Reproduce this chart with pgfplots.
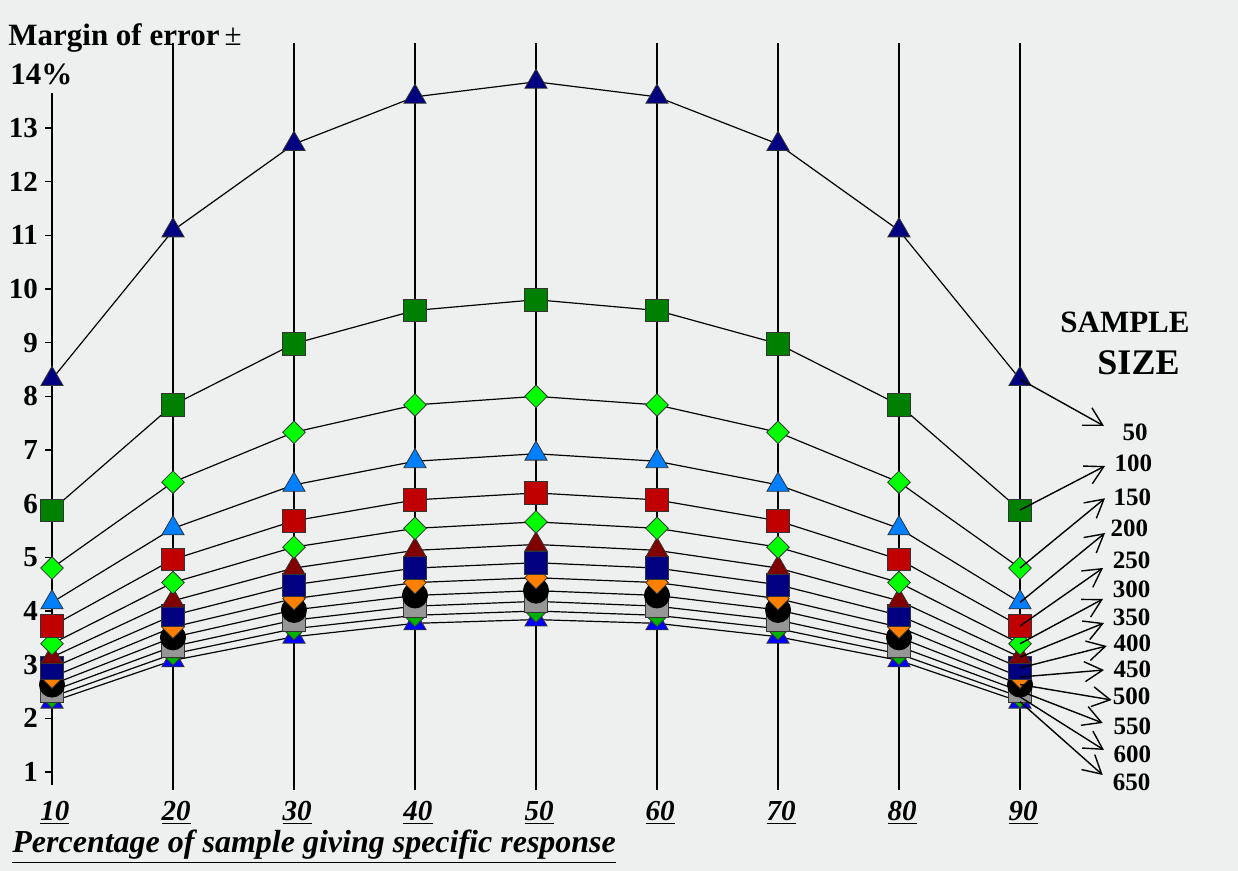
\documentclass[border=0pt]{standalone}
\usepackage{fontspec}
\setmainfont{Liberation Serif}
\usepackage{pgfplots}
\pgfplotsset{compat=1.18}
\usepackage{pgfplotstable}
\usetikzlibrary{arrows.meta}

\definecolor{bgc}{RGB}{238,240,239}
\definecolor{cnavy}{RGB}{0,0,128}
\definecolor{cgreen}{RGB}{0,128,0}
\definecolor{clime}{RGB}{0,255,0}
\definecolor{cdodger}{RGB}{0,128,255}
\definecolor{cred}{RGB}{192,0,0}
\definecolor{cdarkred}{RGB}{128,0,0}
\definecolor{corange}{RGB}{255,128,0}
\definecolor{cgray}{RGB}{150,150,150}
\definecolor{cmidgreen}{RGB}{0,176,0}
\definecolor{cblue}{RGB}{0,0,255}

\pgfplotstableread{
p  n50   n100 n150 n200 n250 n300 n350 n400 n450 n500 n550 n600 n650
10 8.32  5.88 4.80 4.16 3.72 3.39 3.14 2.94 2.77 2.63 2.51 2.40 2.31
20 11.09 7.84 6.40 5.54 4.96 4.53 4.19 3.92 3.70 3.51 3.34 3.20 3.08
30 12.70 8.98 7.33 6.35 5.68 5.19 4.80 4.49 4.23 4.02 3.83 3.67 3.52
40 13.58 9.60 7.84 6.79 6.07 5.54 5.13 4.80 4.53 4.29 4.09 3.92 3.77
50 13.86 9.80 8.00 6.93 6.20 5.66 5.24 4.90 4.62 4.38 4.18 4.00 3.84
60 13.58 9.60 7.84 6.79 6.07 5.54 5.13 4.80 4.53 4.29 4.09 3.92 3.77
70 12.70 8.98 7.33 6.35 5.68 5.19 4.80 4.49 4.23 4.02 3.83 3.67 3.52
80 11.09 7.84 6.40 5.54 4.96 4.53 4.19 3.92 3.70 3.51 3.34 3.20 3.08
90 8.32  5.88 4.80 4.16 3.72 3.39 3.14 2.94 2.77 2.63 2.51 2.40 2.31
}\moe

\begin{document}
\begin{tikzpicture}
\fill[bgc] (-26pt,-38.75pt) rectangle (593pt,396.75pt);
\path[use as bounding box] (-26pt,-38.75pt) rectangle (593pt,396.75pt);
\begin{axis}[
  at={(0,0)}, anchor=south west,
  scale only axis, width=484pt, height=375.7pt,
  xmin=10, xmax=90, ymin=0.6, ymax=14.6,
  clip=false,
  axis line style={draw=none},
  xtick={10,20,...,90},
  xticklabels={\underline{10},\underline{20},\underline{30},\underline{40},\underline{50},\underline{60},\underline{70},\underline{80},\underline{90}},
  xticklabel style={font=\fontsize{14.5}{16}\selectfont\bfseries\itshape, inner sep=1pt, xshift=1.5pt, yshift=1pt},
  xtick style={draw=none},
  ytick={1,2,...,13},
  yticklabels={1,2,3,4,5,6,7,8,9,10,11,12,13},
  ytick pos=left,
  tick align=outside,
  major tick length=3.5pt,
  ytick style={black, line width=0.6pt},
  yticklabel style={font=\fontsize{14.5}{16}\selectfont\bfseries, anchor=east},
  xlabel={\underline{Percentage of sample giving specific response}},
  xlabel style={at={(rel axis cs:-0.0413,-0.0785)}, anchor=base west, font=\fontsize{16}{18}\selectfont\bfseries\itshape, inner sep=0pt},
  ylabel={Margin of error\,\textmd{±}},
  ylabel style={rotate=-90, at={(rel axis cs:-0.0455,0.9961)}, anchor=base west, font=\fontsize{15.5}{17}\selectfont\bfseries, inner sep=0pt},
  every axis plot/.append style={line width=0.6pt},
]
% vertical lines
\addplot[black, line width=0.8pt] coordinates {(10,0.76) (10,13.66)};
\addplot[black, line width=0.8pt] coordinates {(20,0.67) (20,14.58)};
\addplot[black, line width=0.9pt] coordinates {(30,0.67) (30,14.58)};
\addplot[black, line width=0.7pt] coordinates {(40,0.67) (40,14.58)};
\addplot[black, line width=0.8pt] coordinates {(50,0.67) (50,14.58)};
\addplot[black, line width=0.9pt] coordinates {(60,0.67) (60,14.58)};
\addplot[black, line width=0.8pt] coordinates {(70,0.67) (70,14.58)};
\addplot[black, line width=0.7pt] coordinates {(80,0.67) (80,14.58)};
\addplot[black, line width=0.8pt] coordinates {(90,0.67) (90,14.58)};
% series, drawn from largest sample to smallest
\addplot[black, mark=triangle*, mark size=6.4pt, mark options={fill=cblue, draw=black!80, line width=0.4pt}] table[x=p,y=n650] {\moe};
\addplot[black, mark=square*, mark size=4pt, mark options={rotate=45, fill=cmidgreen, draw=black!80, line width=0.4pt}] table[x=p,y=n600] {\moe};
\addplot[black, mark=square*, mark size=5.6pt, mark options={fill=cgray, draw=black!80, line width=0.4pt}] table[x=p,y=n550] {\moe};
\addplot[black, mark=*, mark size=6.3pt, mark options={fill=black, draw=black, line width=0.4pt}] table[x=p,y=n500] {\moe};
\addplot[black, mark=square*, mark size=4pt, mark options={rotate=45, fill=corange, draw=black!80, line width=0.4pt}] table[x=p,y=n450] {\moe};
\addplot[black, mark=square*, mark size=5.6pt, mark options={fill=cnavy, draw=black!80, line width=0.4pt}] table[x=p,y=n400] {\moe};
\addplot[black, mark=triangle*, mark size=6.4pt, mark options={fill=cdarkred, draw=black!80, line width=0.4pt}] table[x=p,y=n350] {\moe};
\addplot[black, mark=square*, mark size=4pt, mark options={rotate=45, fill=clime, draw=black!80, line width=0.4pt}] table[x=p,y=n300] {\moe};
\addplot[black, mark=square*, mark size=5.6pt, mark options={fill=cred, draw=black!80, line width=0.4pt}] table[x=p,y=n250] {\moe};
\addplot[black, mark=triangle*, mark size=6.4pt, mark options={fill=cdodger, draw=black!80, line width=0.4pt}] table[x=p,y=n200] {\moe};
\addplot[black, mark=square*, mark size=4pt, mark options={rotate=45, fill=clime, draw=black!80, line width=0.4pt}] table[x=p,y=n150] {\moe};
\addplot[black, mark=square*, mark size=5.6pt, mark options={fill=cgreen, draw=black!80, line width=0.4pt}] table[x=p,y=n100] {\moe};
\addplot[black, mark=triangle*, mark size=6.4pt, mark options={fill=cnavy, draw=black!80, line width=0.4pt}] table[x=p,y=n50] {\moe};
\node[anchor=base west, font=\fontsize{15.5}{17}\selectfont\bfseries, inner sep=0pt] at (rel axis cs:-0.0434,0.9442) {14\%};
\coordinate (s50) at (axis cs:90,8.32);
\coordinate (s100) at (axis cs:90,5.88);
\coordinate (s150) at (axis cs:90,4.80);
\coordinate (s200) at (axis cs:90,4.16);
\coordinate (s250) at (axis cs:90,3.72);
\coordinate (s300) at (axis cs:90,3.39);
\coordinate (s350) at (axis cs:90,3.14);
\coordinate (s400) at (axis cs:90,2.94);
\coordinate (s450) at (axis cs:90,2.77);
\coordinate (s500) at (axis cs:90,2.63);
\coordinate (s550) at (axis cs:90,2.51);
\coordinate (s600) at (axis cs:90,2.40);
\coordinate (s650) at (axis cs:90,2.31);
\end{axis}
\node[anchor=base, font=\fontsize{15.5}{17}\selectfont\bfseries, inner sep=0pt] at (536.5pt,230.4pt) {SAMPLE};
\node[anchor=base, font=\fontsize{18}{20}\selectfont\bfseries, inner sep=0pt] at (543.25pt,209.6pt) {SIZE};
\foreach \n/\lx/\ly/\tx/\ty in {
  50/541.5/180.4/526/183.75,
  100/540.65/165.1/526.5/163.75,
  150/540.15/148.1/526.5/147.6,
  200/538.65/132.6/526.5/130.25,
  250/539.85/116.75/525.5/112.75,
  300/539.85/102.1/525.5/97.25,
  350/539.85/88.1/526/85.25,
  400/540.15/75.1/527.35/73.75,
  450/540.15/62.1/526/61.75,
  500/539.85/48.75/529.8/46.75,
  550/540.15/33.75/525.35/35.25,
  600/540.15/19.75/526/21.75,
  650/539.85/5.4/525.35/9.25}{
  \draw[black, line width=0.7pt, -{Straight Barb[length=9pt,width=10pt,line width=0.7pt]}] (s\n) -- (\tx pt,\ty pt);
  \node[font=\fontsize{12.5}{14}\selectfont\bfseries, inner sep=0pt] at (\lx pt,\ly pt) {\n};
}
\end{tikzpicture}
\end{document}
